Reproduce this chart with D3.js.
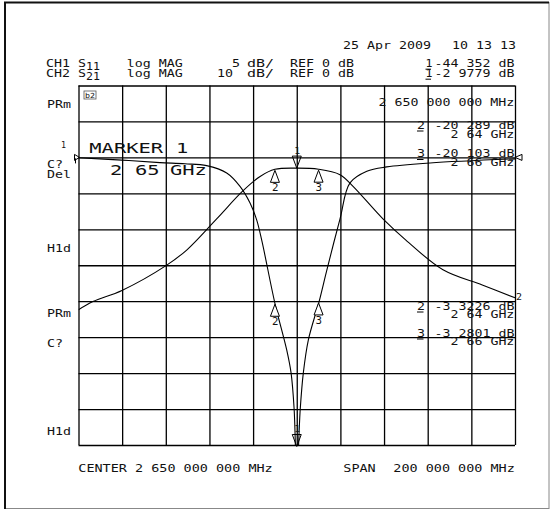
<!DOCTYPE html>
<html><head><meta charset="utf-8">
<script src="https://cdn.jsdelivr.net/npm/d3@7"></script>
<style>
html,body{margin:0;padding:0;background:#fff;}
svg{display:block;}
text{font-family:'DejaVu Sans Mono',monospace;fill:#111;white-space:pre;}
</style></head>
<body>
<svg id="c" width="556" height="514"></svg>
<script>
// ---- data (frequency in MHz, magnitude in dB) ----
const freqS11 = [2550, 2569.9, 2587.3, 2598.8, 2608.7, 2617.9, 2624.0, 2628.6, 2631.6, 2634.1, 2640.0, 2645.4, 2647.4, 2648.8, 2650.0, 2651.6, 2653.0, 2655.3, 2660.2, 2663.7, 2669.8, 2674.4, 2682.1, 2691.2, 2711.1, 2750];
const s11dB   = [-0.05, -0.38, -0.72, -0.89, -1.14, -2.16, -4.02, -6.34, -8.66, -11.73, -20.29, -26.77, -29.97, -34.99, -44.35, -35.0, -30.0, -25.4, -20.10, -15.77, -8.57, -3.55, -1.94, -1.32, -0.77, -0.2];
const freqS21 = [2550, 2556.6, 2569.9, 2590.1, 2599.7, 2613.3, 2625.2, 2633.2, 2640, 2650, 2660, 2669.8, 2675.8, 2689.5, 2700, 2717, 2735, 2750];
const s21dB   = [-42.4, -40.1, -37.0, -30.1, -25.7, -17.1, -9.4, -5.3, -3.32, -2.98, -3.28, -4.8, -8.05, -17.1, -23.0, -31.25, -35.5, -39.05];
const markerFreq = [2650, 2640, 2660];
const markerNames = ["1", "2", "3"];
const markerS11 = [-44.352, -20.289, -20.103];
const markerS21 = [-2.9779, -3.3226, -3.2801];
const xGrid = [2550, 2570, 2590, 2610, 2630, 2650, 2670, 2690, 2710, 2730, 2750];
const yGridS11 = [-40, -35, -30, -25, -20, -15, -10, -5, 0, 5, 10];

const svg = d3.select("#c");
const L = 78.5, R = 515, T = 85.5, B = 445;
const x = d3.scaleLinear().domain([2550, 2750]).range([L, R]);
const yS11 = d3.scaleLinear().domain([-40, 10]).range([B, T]);
const yS21 = d3.scaleLinear().domain([-80, 20]).range([B, T]);

// outer frame
svg.append("rect").attr("x", 5).attr("y", 2.5).attr("width", 544).attr("height", 506)
  .attr("fill", "none").attr("stroke", "#888").attr("stroke-width", 1);
svg.append("path").attr("d", "M5,509 V2.5 H549").attr("fill", "none").attr("stroke", "#111").attr("stroke-width", 2);

// graticule via axes
const gx = svg.append("g").attr("transform", `translate(0,${B})`)
  .call(d3.axisBottom(x).tickValues(xGrid).tickSize(-(B - T)).tickSizeOuter(0).tickFormat(""));
const gy = svg.append("g").attr("transform", `translate(${L},0)`)
  .call(d3.axisLeft(yS11).tickValues(yGridS11).tickSize(-(R - L)).tickSizeOuter(0).tickFormat(""));
[gx, gy].forEach(g => {
  g.select(".domain").remove();
  g.selectAll(".tick line").attr("stroke", "#000").attr("stroke-width", 1.3);
});

// traces
svg.append("clipPath").attr("id", "clip").append("rect")
  .attr("x", L).attr("y", T - 2).attr("width", R - L + 2).attr("height", B - T + 2);
const curve = d3.curveCatmullRom.alpha(0.5);
const line11 = d3.line().x((d, i) => x(freqS11[i])).y(d => yS11(d)).curve(curve);
const line21 = d3.line().x((d, i) => x(freqS21[i])).y(d => yS21(d)).curve(curve);
const tr = svg.append("g").attr("clip-path", "url(#clip)");
tr.append("path").attr("d", line11(s11dB)).attr("fill", "none").attr("stroke", "#000").attr("stroke-width", 1.1);
tr.append("path").attr("d", line21(s21dB)).attr("fill", "none").attr("stroke", "#000").attr("stroke-width", 1.1);

// text helper: monospaced, stretched to a pitch
function txt(str, x0, y0, opt = {}) {
  const pitch = opt.pitch || 8, size = opt.size || 9.6;
  const t = svg.append("text").attr("x", x0).attr("y", y0)
    .attr("font-size", size).attr("xml:space", "preserve")
    .attr("textLength", str.length * pitch).attr("lengthAdjust", "spacingAndGlyphs")
    .text(str);
  if (opt.ul) svg.append("line").attr("x1", x0).attr("x2", x0 + pitch - 1.5)
    .attr("y1", y0 + 2.5).attr("y2", y0 + 2.5).attr("stroke", "#000").attr("stroke-width", 1);
  return t;
}
const rx = s => 514.4 - s.length * 8; // right aligned fields

// header
txt("25 Apr 2009", 343, 49);
txt("10 13 13", 452, 49);
txt("CH1", 46, 66.7); txt("S", 78, 66.7); txt("11", 86, 69.7, {pitch: 7});
txt("log MAG", 126.7, 66.7); txt("5", 232, 66.7); txt("dB/", 247, 66.7, {pitch: 9});
txt("REF", 290, 66.7); txt("0", 322, 66.7); txt("dB", 338, 66.7);
txt("1", 425.5, 66.7, {ul: true, pitch: 7}); txt("-44 352 dB", rx("-44 352 dB"), 66.7);
txt("CH2", 46, 76.7); txt("S", 78, 76.7); txt("21", 86, 79.7, {pitch: 7});
txt("log MAG", 126.7, 76.7); txt("10", 217, 76.7); txt("dB/", 247, 76.7, {pitch: 9});
txt("REF", 290, 76.7); txt("0", 322, 76.7); txt("dB", 338, 76.7);
txt("1", 425.5, 76.7, {ul: true, pitch: 7}); txt("-2 9779 dB", rx("-2 9779 dB"), 76.7);

// left softkey labels
[["PRm", 108], ["C?", 167.5], ["Del", 178], ["H1d", 251.5], ["PRm", 317], ["C?", 346.5], ["H1d", 434.5]]
  .forEach(([s, yy]) => txt(s, 47, yy));

// in-graticule annotations
txt("2 650 000 000 MHz", rx("2 650 000 000 MHz"), 106);
const ann = [["2", "-20 289 dB", 128.5, "2 64 GHz", 137.5], ["3", "-20 103 dB", 157, "2 66 GHz", 165.5],
             ["2", "-3 3226 dB", 309.5, "2 64 GHz", 317.5], ["3", "-3 2801 dB", 336.5, "2 66 GHz", 345]];
ann.forEach(a => {
  txt(a[0], 417, a[2], {ul: true});
  txt(a[1], rx(a[1]), a[2]);
  txt(a[3], rx(a[3]), a[4]);
});

// status box icon
svg.append("rect").attr("x", 84).attr("y", 91).attr("width", 12).attr("height", 8)
  .attr("fill", "none").attr("stroke", "#555").attr("stroke-width", 0.8);
txt("b2", 85, 98, {pitch: 5, size: 7});

// MARKER 1 readout
txt("MARKER", 89.3, 152.7, {pitch: 12.3, size: 13.7});
txt("1", 176, 152.7, {pitch: 12.3, size: 13.7});
txt("2", 110, 175, {pitch: 12.3, size: 13.7});
txt("65", 135, 175, {pitch: 12.3, size: 13.7});
txt("GHz", 170, 175, {pitch: 12.3, size: 13.7});

// bottom
txt("CENTER 2 650 000 000 MHz", 78.3, 471.7, {pitch: 8.1});
txt("SPAN", 343.3, 471.7, {pitch: 8.1});
txt("200 000 000 MHz", 393.3, 471.7, {pitch: 8.1});

// reference pointers
svg.append("path").attr("d", `M${L - 4},${yS11(0) - 3} L${L + 1},${yS11(0)} L${L - 4},${yS11(0) + 3} Z M${L - 3},${yS11(0) + 1} V${yS11(0) + 6}`)
  .attr("fill", "none").attr("stroke", "#000").attr("stroke-width", 1);
txt("1", 61, 148, {pitch: 5, size: 8});
svg.append("path").attr("d", `M${R},${yS21(0)} L${R + 7},${yS21(0) - 3} L${R + 7},${yS21(0) + 3} Z`)
  .attr("fill", "none").attr("stroke", "#000").attr("stroke-width", 1);
txt("2", 516, 300, {pitch: 6, size: 9});

// markers
const mk = svg.append("g").attr("fill", "#fff").attr("stroke", "#000").attr("stroke-width", 1);
function down(cx, tip, label) {
  mk.append("path").attr("d", `M${cx},${tip} L${cx - 4.5},${tip - 12} L${cx + 4.5},${tip - 12} Z`).attr("fill", "none");
  txt(label, cx - 2.5, tip - 14.5, {pitch: 6, size: 8.5});
}
function up(cx, tip, label) {
  mk.append("path").attr("d", `M${cx},${tip} L${cx - 4.5},${tip + 12} L${cx + 4.5},${tip + 12} Z`).attr("fill", "#fff");
  txt(label, cx - 3, tip + 21, {pitch: 6.5, size: 9.6});
}
markerFreq.forEach((f, i) => {
  const cx = x(f);
  if (i === 0) {
    down(cx, yS21(markerS21[i]), markerNames[i]);
    down(cx, Math.min(yS11(markerS11[i]), B) + 1.5, markerNames[i]);
  } else {
    up(cx, yS21(markerS21[i]) + 1, markerNames[i]);
    up(cx, yS11(markerS11[i]) + 1, markerNames[i]);
  }
});
</script>
</body></html>
